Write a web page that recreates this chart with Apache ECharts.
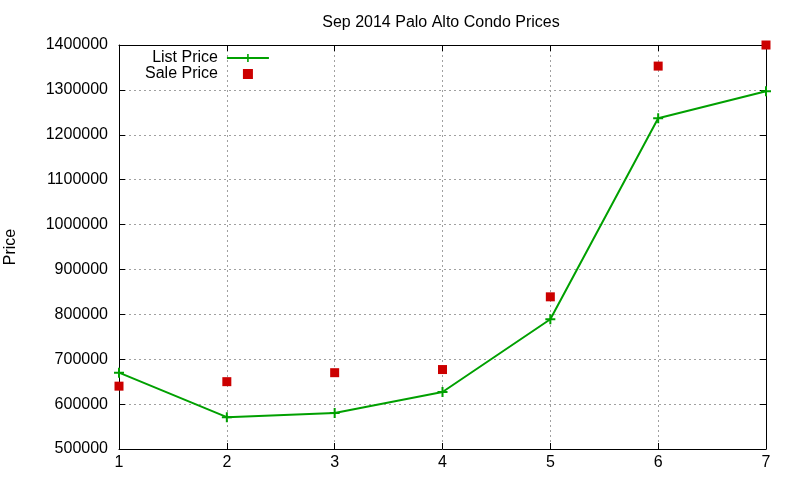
<!DOCTYPE html>
<html><head><meta charset="utf-8">
<script src="https://cdn.jsdelivr.net/npm/echarts@6/dist/echarts.min.js"></script>
<style>html,body{margin:0;padding:0;background:#fff}#c{width:800px;height:480px}</style>
</head><body><div id="c"></div>
<script>
const categories = [1, 2, 3, 4, 5, 6, 7];
const listPrice = [670000, 571000, 580000, 627000, 789000, 1237000, 1297000];
const salePrice = [640000, 650000, 670000, 677000, 839000, 1353000, 1400000];
const yTicks = { min: 500000, max: 1400000, step: 100000 };

const chart = echarts.init(document.getElementById('c'), null, { renderer: 'canvas' });
const font = 'Liberation Sans, Arial, sans-serif';
const plus = 'path://M0,4H4V0H6V4H10V6H6V10H4V6H0Z';
const legendSquare = 'path://M0,0H0.01V0.01H0Z M16,0H26V10H16Z M41.99,9.99H42V10H41.99Z';
const gridLine = { show: true, lineStyle: { color: '#a0a0a0', type: [2, 3], width: 1 } };
const axisLine = { show: true, onZero: false, lineStyle: { color: '#000', width: 1 } };
const tick = { show: true, inside: true, length: 6, lineStyle: { color: '#000' } };

chart.setOption({
  animation: false,
  title: {
    text: 'Sep 2014 Palo Alto Condo Prices',
    left: 436, top: 10, textAlign: 'center',
    textStyle: { fontFamily: font, fontSize: 16, fontWeight: 'normal', color: '#000' }
  },
  legend: {
    orient: 'vertical', left: 140, top: 45, align: 'right',
    itemWidth: 42, itemHeight: 10, itemGap: 0,
    textStyle: { fontFamily: font, fontSize: 16, color: '#000', padding: [0, 4, 0, 0] },
    data: [
      { name: 'List Price' },
      { name: 'Sale Price', icon: legendSquare }
    ]
  },
  grid: { left: 119, right: 34, top: 45, bottom: 31, containLabel: false, outerBoundsMode: 'none' },
  xAxis: [{
    type: 'value', min: 1, max: 7, interval: 1,
    axisLine, axisTick: tick, splitLine: gridLine,
    axisLabel: { fontFamily: font, fontSize: 16, color: '#000', margin: 6,
      formatter: v => categories.includes(v) ? String(v) : '' }
  }, {
    type: 'value', position: 'top', min: 1, max: 7, interval: 1,
    axisLine, axisTick: tick, splitLine: { show: false }, axisLabel: { show: false }
  }],
  yAxis: [{
    type: 'value', min: yTicks.min, max: yTicks.max, interval: yTicks.step,
    name: 'Price', nameLocation: 'middle', nameGap: 100, nameRotate: 90,
    nameTextStyle: { fontFamily: font, fontSize: 16, color: '#000' },
    axisLine, axisTick: tick, splitLine: gridLine,
    axisLabel: { fontFamily: font, fontSize: 16, color: '#000', margin: 11,
      formatter: v => String(v) }
  }, {
    type: 'value', position: 'right', min: yTicks.min, max: yTicks.max, interval: yTicks.step,
    axisLine, axisTick: tick, splitLine: { show: false }, axisLabel: { show: false }
  }],
  series: [{
    name: 'List Price', type: 'line',
    data: categories.map((c, i) => [c, listPrice[i]]),
    symbol: plus, symbolSize: 10,
    lineStyle: { color: '#00a000', width: 2 },
    itemStyle: { color: '#00a000' },
    z: 3
  }, {
    name: 'Sale Price', type: 'scatter',
    data: categories.map((c, i) => [c, salePrice[i]]),
    symbol: 'rect', symbolSize: 9,
    itemStyle: { color: '#cc0000', opacity: 1 },
    z: 4
  }]
});
</script></body></html>
